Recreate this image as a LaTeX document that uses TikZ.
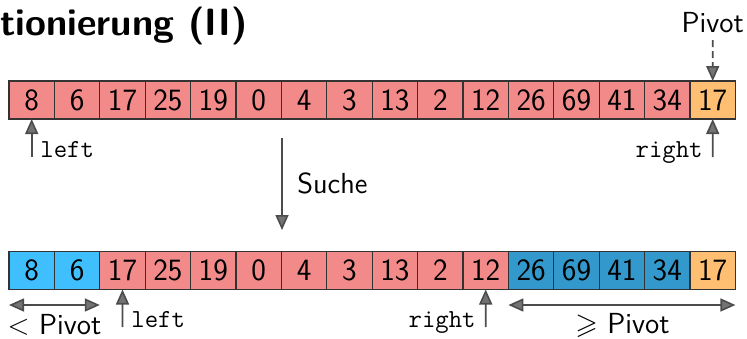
\documentclass[tikz,border=0pt]{standalone}
\usepackage{fontspec}
\usepackage{amssymb}
\usetikzlibrary{arrows.meta}
\definecolor{cellred}{HTML}{F28A8A}
\definecolor{cellorange}{HTML}{FFBF73}
\definecolor{cellcyan}{HTML}{40BFFF}
\definecolor{cellblue}{HTML}{3399CC}
\tikzset{
  cell/.style={draw=black!80, line width=0.6pt, minimum width=22.7pt,
    minimum height=19pt, inner sep=0pt, outer sep=0pt,
    font=\sffamily\fontsize{15.5}{18}\selectfont},
  lbl/.style={inner sep=0pt, font=\sffamily\fontsize{14.5}{17}\selectfont},
  var/.style={inner sep=0pt, font=\ttfamily\fontsize{13}{15}\selectfont},
  ptr/.style={draw=black!70, line width=0.8pt,
    -{Triangle[length=7.5pt,width=6.5pt,fill=black!55]}},
  span/.style={draw=black!70, line width=0.8pt,
    {Triangle[length=7.5pt,width=6.5pt,fill=black!55]}-{Triangle[length=7.5pt,width=6.5pt,fill=black!55]}}
}
\begin{document}
\begin{tikzpicture}[x=0.5pt, y=-0.5pt]
  \useasboundingbox (0,0) rectangle (747,338);
  \node (title) [anchor=base west, inner sep=0pt,
    font=\sffamily\bfseries\fontsize{19}{23}\selectfont] at (0,35) {tionierung (II)};
  % before the search
  \foreach \v/\c [count=\i from 0] in {8/cellred,6/cellred,17/cellred,25/cellred,
      19/cellred,0/cellred,4/cellred,3/cellred,13/cellred,2/cellred,12/cellred,
      26/cellred,69/cellred,41/cellred,34/cellred,17/cellorange}
    \node (a\i) [cell, fill=\c] at (31.7+45.4*\i, 100) {\v};
  \node (pv) [lbl, anchor=base] at (712.7,32) {Pivot};
  \draw[ptr, dashed, dash pattern=on 3.5pt off 2pt] (712.7,40) -- (a15.north);
  \coordinate (l1) at (31.7,157);
  \coordinate (r1) at (712.7,157);
  \draw[ptr] (l1) -- (a0.south);
  \draw[ptr] (r1) -- (a15.south);
  \node (lt1) [var, anchor=base west] at (40,157) {left};
  \node (rt1) [var, anchor=base east] at (703,157) {right};
  % search step
  \coordinate (s1) at (282,138);
  \coordinate (s2) at (282,230);
  \draw[ptr] (s1) -- (s2);
  \node (su) [lbl, anchor=west] at (297,183) {Suche};
  % after the search
  \foreach \v/\c [count=\i from 0] in {8/cellcyan,6/cellcyan,17/cellred,25/cellred,
      19/cellred,0/cellred,4/cellred,3/cellred,13/cellred,2/cellred,12/cellred,
      26/cellblue,69/cellblue,41/cellblue,34/cellblue,17/cellorange}
    \node (b\i) [cell, fill=\c] at (31.7+45.4*\i, 270.5) {\v};
  \coordinate (l2) at (122.5,327);
  \coordinate (r2) at (485.7,327);
  \draw[ptr] (l2) -- (b2.south);
  \draw[ptr] (r2) -- (b10.south);
  \node (lt2) [var, anchor=base west] at (131,327) {left};
  \node (rt2) [var, anchor=base east] at (476,327) {right};
  \draw[span] ([yshift=-7.75pt]b0.south west) -- ([yshift=-7.75pt]b1.south east);
  \draw[span] ([yshift=-7.75pt]b11.south west) -- ([yshift=-7.75pt]b15.south east);
  \node (lo) [lbl, anchor=base] at (54.5,334) {$<$ Pivot};
  \node (hi) [lbl, anchor=base] at (622.5,333) {$\geqslant$ Pivot};
\end{tikzpicture}
\end{document}
